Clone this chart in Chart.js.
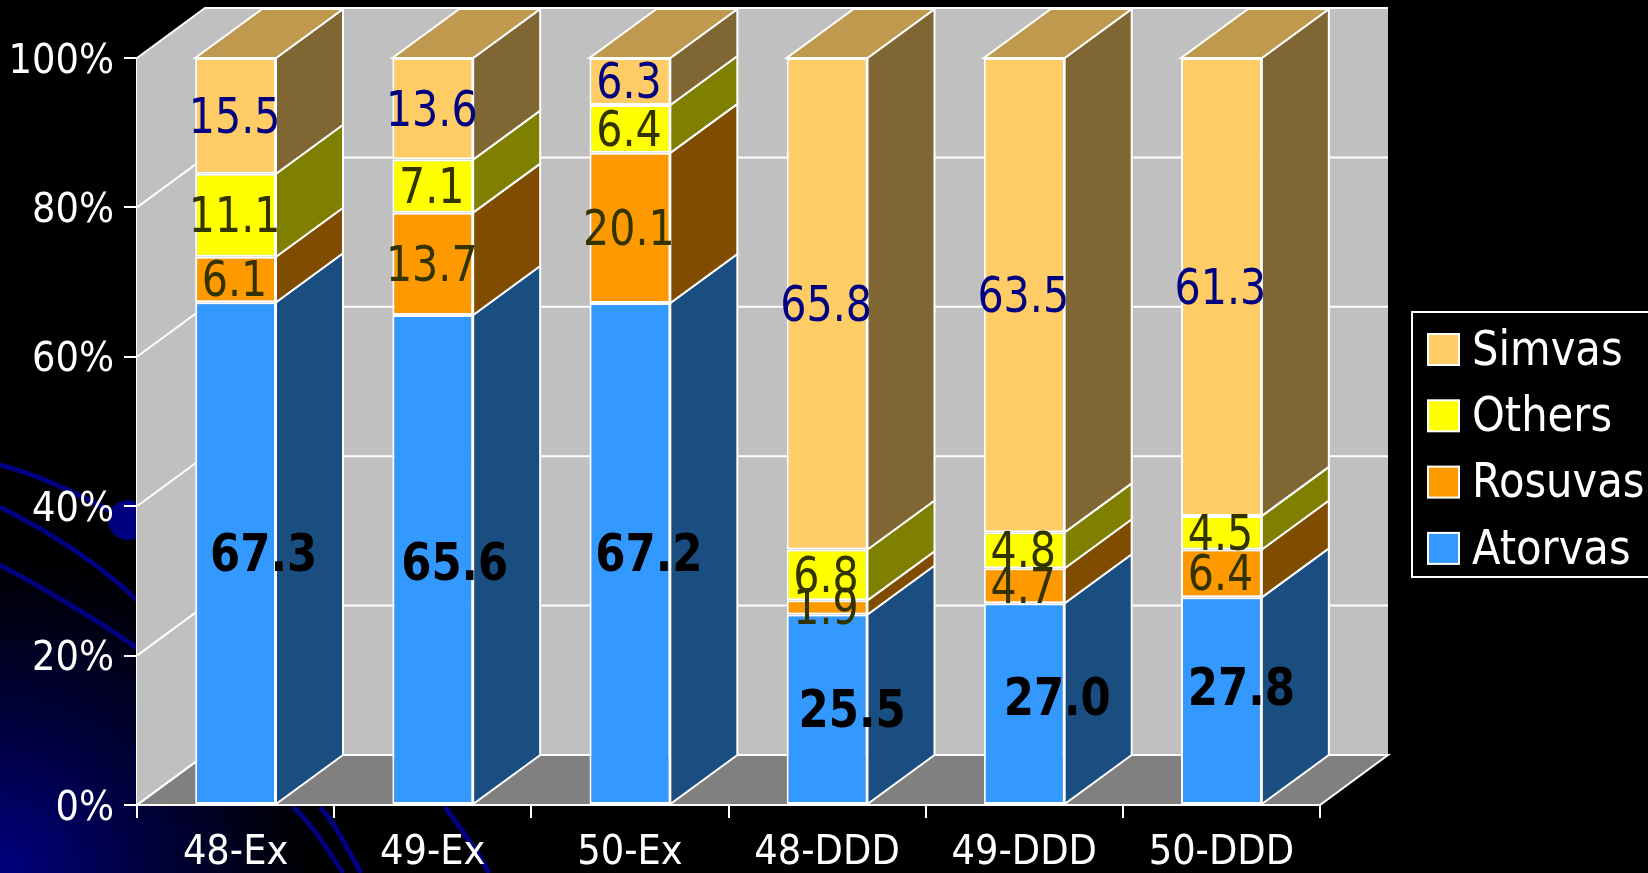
<!DOCTYPE html>
<html>
<head>
<meta charset="utf-8">
<title>Statin share</title>
<script src="https://cdn.jsdelivr.net/npm/chart.js@4"></script>
<style>
  html, body { margin: 0; padding: 0; background: #000; overflow: hidden; }
  canvas { display: block; }
</style>
</head>
<body>
<canvas id="shareChart" width="1648" height="873"></canvas>
<script>
const categories = ["48-Ex", "49-Ex", "50-Ex", "48-DDD", "49-DDD", "50-DDD"];
const atorvas = [67.3, 65.6, 67.2, 25.5, 27.0, 27.8];
const rosuvas = [6.1, 13.7, 20.1, 1.9, 4.7, 6.4];
const others = [11.1, 7.1, 6.4, 6.8, 4.8, 4.5];
const simvas = [15.5, 13.6, 6.3, 65.8, 63.5, 61.3];
const yTicks = [0, 20, 40, 60, 80, 100];

// the big black labels were dragged by hand in the original
const atorvasShiftX = [28, 22, 19, 25, 33, 20];
const atorvasShiftY = [0, 3, 0, 0, -6, -13];

const FONT = "'DejaVu Sans Condensed', 'DejaVu Sans', sans-serif";
const WALL_DX = 68, WALL_DY = -50;
const BAR_DX = 67, BAR_DY = -49;

function poly(ctx, pts, fill, noStroke) {
  ctx.beginPath();
  ctx.moveTo(pts[0][0], pts[0][1]);
  for (let i = 1; i < pts.length; i++) ctx.lineTo(pts[i][0], pts[i][1]);
  ctx.closePath();
  if (fill) { ctx.fillStyle = fill; ctx.fill(); }
  if (noStroke) return;
  ctx.strokeStyle = "#fff";
  ctx.lineWidth = 2;
  ctx.stroke();
}

function curve(ctx, pts) {
  ctx.beginPath();
  ctx.moveTo(pts[0], pts[1]);
  ctx.bezierCurveTo(pts[2], pts[3], pts[4], pts[5], pts[6], pts[7]);
  ctx.stroke();
}

// the original text is a bit taller than any installed font, so stretch it
function stretchedText(ctx, text, x, y, sx, sy) {
  ctx.save();
  ctx.translate(x, y);
  ctx.scale(sx, sy);
  ctx.fillText(text, 0, 0);
  ctx.restore();
}

// slide background: black, navy corner, a few dark curves
const backdrop = {
  id: "backdrop",
  beforeDraw(chart) {
    const ctx = chart.ctx;
    ctx.save();
    ctx.fillStyle = "#000";
    ctx.fillRect(0, 0, chart.width, chart.height);
    const g = ctx.createRadialGradient(0, 873, 0, 0, 873, 320);
    g.addColorStop(0, "#000080");
    g.addColorStop(0.5, "#000038");
    g.addColorStop(1, "rgba(0,0,56,0)");
    ctx.fillStyle = g;
    ctx.fillRect(0, 500, 340, 373);
    ctx.strokeStyle = "#000080";
    ctx.lineWidth = 5;
    curve(ctx, [0, 465, 40, 475, 80, 495, 128, 520]);
    curve(ctx, [0, 507, 50, 532, 100, 565, 137, 600]);
    curve(ctx, [0, 565, 50, 592, 100, 622, 137, 648]);
    curve(ctx, [293, 807, 310, 822, 325, 845, 343, 873]);
    curve(ctx, [320, 807, 336, 825, 348, 850, 361, 873]);
    curve(ctx, [445, 807, 462, 830, 478, 852, 489, 873]);
    ctx.fillStyle = "#000080";
    ctx.beginPath();
    ctx.arc(128, 520, 20, 0, Math.PI * 2);
    ctx.fill();
    ctx.restore();
  }
};

// fake 3d: walls, floor, then side and top faces taken from the bar elements
const walls3d = {
  id: "walls3d",
  beforeDatasetsDraw(chart) {
    const ctx = chart.ctx;
    const a = chart.chartArea;
    const y = chart.scales.y;
    ctx.save();
    poly(ctx, [[a.left, a.top], [a.left + WALL_DX, a.top + WALL_DY], [a.left + WALL_DX, a.bottom + WALL_DY], [a.left, a.bottom]], "#c0c0c0", true);
    ctx.fillStyle = "#c0c0c0";
    ctx.fillRect(a.left + WALL_DX, a.top + WALL_DY, a.right - a.left, a.bottom - a.top);
    poly(ctx, [[a.left, a.bottom], [a.right, a.bottom], [a.right + WALL_DX, a.bottom + WALL_DY], [a.left + WALL_DX, a.bottom + WALL_DY]], "#808080");
    ctx.strokeStyle = "#fff";
    ctx.lineWidth = 2;
    yTicks.forEach(function (t) {
      const py = y.getPixelForValue(t);
      ctx.beginPath();
      ctx.moveTo(a.left, py);
      ctx.lineTo(a.left + WALL_DX, py + WALL_DY);
      ctx.lineTo(a.right + WALL_DX, py + WALL_DY);
      ctx.stroke();
    });
    chart.data.datasets.forEach(function (ds, i) {
      chart.getDatasetMeta(i).data.forEach(function (bar) {
        const p = bar.getProps(["x", "y", "base", "width"], true);
        const r = p.x + p.width / 2;
        const l = p.x - p.width / 2;
        poly(ctx, [[r, p.y], [r + BAR_DX, p.y + BAR_DY], [r + BAR_DX, p.base + BAR_DY], [r, p.base]], ds.sideColor);
        if (ds.topColor) {
          poly(ctx, [[l, p.y], [r, p.y], [r + BAR_DX, p.y + BAR_DY], [l + BAR_DX, p.y + BAR_DY]], ds.topColor);
        }
      });
    });
    ctx.restore();
  }
};

const valueLabels = {
  id: "valueLabels",
  afterDatasetsDraw(chart) {
    const ctx = chart.ctx;
    ctx.save();
    ctx.textAlign = "center";
    ctx.textBaseline = "middle";
    chart.data.datasets.forEach(function (ds, i) {
      chart.getDatasetMeta(i).data.forEach(function (bar, j) {
        const p = bar.getProps(["x", "y", "base"], true);
        const bold = ds.label === "Atorvas";
        ctx.font = (bold ? "bold 46px " : "44px ") + FONT;
        ctx.fillStyle = ds.labelColor;
        const x = p.x + (bold ? atorvasShiftX[j] : -1);
        const y = (p.y + p.base) / 2 + (bold ? atorvasShiftY[j] : 0) + 4;
        stretchedText(ctx, ds.data[j].toFixed(1), x, y, bold ? 1.05 : 1.04, 1.12);
      });
    });
    ctx.restore();
  }
};

const boxLegend = {
  id: "boxLegend",
  afterDraw(chart) {
    const ctx = chart.ctx;
    ctx.save();
    ctx.strokeStyle = "#fff";
    ctx.lineWidth = 2;
    ctx.fillStyle = "#000";
    ctx.fillRect(1412, 312, 240, 265);
    ctx.strokeRect(1412, 312, 240, 265);
    ctx.font = "45px " + FONT;
    ctx.textBaseline = "middle";
    ctx.textAlign = "left";
    chart.data.datasets.slice().reverse().forEach(function (ds, i) {
      const top = 334 + i * 66.3;
      ctx.fillStyle = ds.backgroundColor;
      ctx.fillRect(1428, top, 31, 31);
      ctx.strokeRect(1428, top, 31, 31);
      ctx.fillStyle = "#fff";
      stretchedText(ctx, ds.label, 1472, top + 18, 1.03, 1.08);
    });
    ctx.restore();
  }
};

function drawShareChart() {
  const ctx = document.getElementById("shareChart").getContext("2d");
  const bar = { borderColor: "#fff", borderWidth: 2, borderSkipped: false, barPercentage: 0.41, categoryPercentage: 1 };
  new Chart(ctx, {
    type: "bar",
    data: {
      labels: categories,
      datasets: [
        Object.assign({ label: "Atorvas", data: atorvas, backgroundColor: "#3399ff", sideColor: "#1a4d80", labelColor: "#000" }, bar),
        Object.assign({ label: "Rosuvas", data: rosuvas, backgroundColor: "#ff9900", sideColor: "#804d00", labelColor: "#333300" }, bar),
        Object.assign({ label: "Others", data: others, backgroundColor: "#ffff00", sideColor: "#808000", labelColor: "#333300" }, bar),
        Object.assign({ label: "Simvas", data: simvas, backgroundColor: "#ffcc66", sideColor: "#806633", topColor: "#bf994d", labelColor: "#000080" }, bar)
      ]
    },
    options: {
      responsive: false,
      animation: false,
      layout: { padding: { top: 58, right: 328 } },
      plugins: { legend: { display: false }, tooltip: { enabled: false } },
      scales: {
        x: {
          stacked: true,
          afterFit: function (s) { s.height = 68; },
          grid: { drawOnChartArea: false, color: "#fff", lineWidth: 2, tickLength: 13 },
          border: { color: "#fff", width: 2 },
          ticks: { color: "#fff", font: { family: FONT, size: 41 }, padding: 11, maxRotation: 0 }
        },
        y: {
          stacked: true,
          min: 0,
          max: 100,
          afterFit: function (s) { s.width = 137; },
          afterBuildTicks: function (s) { s.ticks = yTicks.map(function (v) { return { value: v }; }); },
          grid: { drawOnChartArea: false, color: "#fff", lineWidth: 2, tickLength: 13 },
          border: { color: "#fff", width: 2 },
          ticks: {
            color: "#fff",
            font: { family: FONT, size: 41 },
            padding: 10,
            labelOffset: 4,
            callback: function (v) { return v + "%"; }
          }
        }
      }
    },
    plugins: [backdrop, walls3d, valueLabels, boxLegend]
  });
}

window.onload = function () {
  drawShareChart();
};
</script>
</body>
</html>
